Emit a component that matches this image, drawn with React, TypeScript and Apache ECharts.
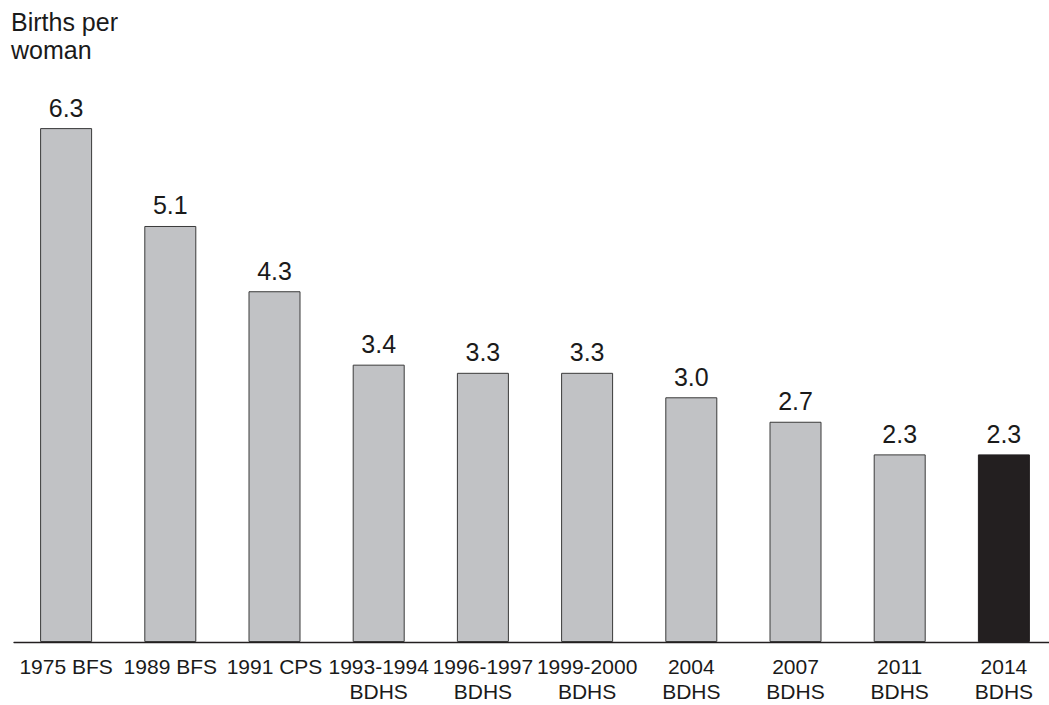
import React, { useEffect, useRef } from "react";
import * as echarts from "echarts";

const categories = [
  "1975 BFS",
  "1989 BFS",
  "1991 CPS",
  "1993-1994\nBDHS",
  "1996-1997\nBDHS",
  "1999-2000\nBDHS",
  "2004\nBDHS",
  "2007\nBDHS",
  "2011\nBDHS",
  "2014\nBDHS",
];
const values = [6.3, 5.1, 4.3, 3.4, 3.3, 3.3, 3.0, 2.7, 2.3, 2.3];
const yTitle = "Births per\nwoman";

const FONT = "'Liberation Sans', Arial, Helvetica, sans-serif";

export default function App() {
  const ref = useRef<HTMLDivElement>(null);
  useEffect(() => {
    document.body.style.margin = "0";
    const chart = echarts.init(ref.current!, null, { renderer: "svg" });
    chart.setOption({
      animation: false,
      backgroundColor: "#ffffff",
      title: {
        text: yTitle,
        left: 11,
        top: 8,
        padding: 0,
        textStyle: {
          fontFamily: FONT,
          fontSize: 25,
          lineHeight: 28,
          fontWeight: "normal",
          color: "#1a1a1a",
        },
      },
      grid: {
        left: 14,
        width: 1042,
        top: 71,
        bottom: 63,
        containLabel: false,
        outerBoundsMode: "none",
      },
      xAxis: {
        type: "category",
        data: categories,
        axisLine: { lineStyle: { color: "#231f20", width: 1.3 } },
        axisTick: { show: false },
        axisLabel: {
          interval: 0,
          margin: 12,
          fontFamily: FONT,
          fontSize: 21,
          lineHeight: 25,
          color: "#1a1a1a",
        },
      },
      yAxis: {
        type: "value",
        min: 0,
        max: 7,
        show: false,
        splitLine: { show: false },
      },
      series: [
        {
          type: "bar",
          barWidth: 52,
          data: values.map((v, i) => ({
            value: v,
            itemStyle:
              i === values.length - 1
                ? { color: "#231f20", borderColor: "#231f20", borderWidth: 1 }
                : { color: "#c1c2c5", borderColor: "#3a3a3a", borderWidth: 1 },
          })),
          label: {
            show: true,
            position: "top",
            distance: 8,
            formatter: (p: any) => p.value.toFixed(1),
            fontFamily: FONT,
            fontSize: 25,
            color: "#1a1a1a",
          },
        },
      ],
    });
    return () => chart.dispose();
  }, []);
  return <div ref={ref} style={{ width: 1049, height: 705 }} />;
}
